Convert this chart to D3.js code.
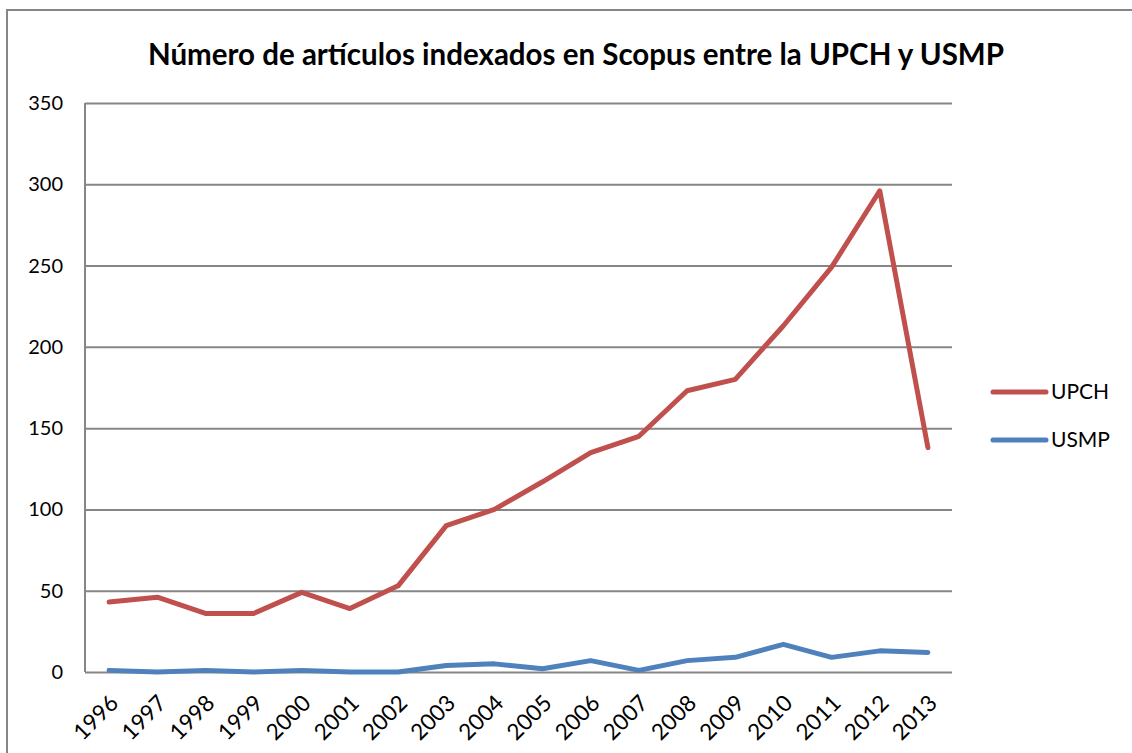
<!DOCTYPE html>
<html>
<head>
<meta charset="utf-8">
<script src="https://cdn.jsdelivr.net/npm/d3@7"></script>
<style>
  body { margin: 0; background: #fff; }
  text { font-family: Lato, "Open Sans", sans-serif; fill: #000; }
</style>
</head>
<body>
<div id="container"></div>
<script>
// Chart size and plot area
const width = 1132;
const height = 753;
const marginTop = 103;
const marginRight = 180;
const marginBottom = 81;
const marginLeft = 85;

// Data
const years = ["1996", "1997", "1998", "1999", "2000", "2001", "2002", "2003", "2004",
  "2005", "2006", "2007", "2008", "2009", "2010", "2011", "2012", "2013"];
const upch = [43, 46, 36, 36, 49, 39, 53, 90, 100, 117, 135, 145, 173, 180, 213, 249, 296, 138];
const usmp = [1, 0, 1, 0, 1, 0, 0, 4, 5, 2, 7, 1, 7, 9, 17, 9, 13, 12];
const yTicks = [0, 50, 100, 150, 200, 250, 300, 350];
const seriesNames = ["UPCH", "USMP"];
const colors = ["#C0504D", "#4F81BD"];

const x = d3.scalePoint()
    .domain(years)
    .range([marginLeft, width - marginRight])
    .padding(0.5);

const y = d3.scaleLinear()
    .domain([0, 350])
    .range([height - marginBottom, marginTop]);

const svg = d3.select("#container")
    .append("svg")
    .attr("width", width)
    .attr("height", height);

// outer chart border
svg.append("rect")
    .attr("x", 7).attr("y", 10)
    .attr("width", width + 20).attr("height", height + 20)
    .attr("fill", "none")
    .attr("stroke", "#868686")
    .attr("stroke-width", 2);

// title
svg.append("text")
    .attr("x", 576)
    .attr("y", 65)
    .attr("text-anchor", "middle")
    .attr("font-size", 29.5)
    .attr("font-weight", "bold")
    .text("Número de artículos indexados en Scopus entre la UPCH y USMP");

// gridlines
svg.append("g")
    .attr("transform", `translate(${marginLeft},0)`)
    .call(d3.axisLeft(y).tickValues(yTicks).tickSize(-(width - marginRight - marginLeft)).tickFormat(""))
    .call(g => g.select(".domain").remove())
    .call(g => g.selectAll("line").attr("stroke", "#868686").attr("stroke-width", 2));

// y axis line
svg.append("line")
    .attr("x1", marginLeft).attr("x2", marginLeft)
    .attr("y1", y(350)).attr("y2", y(0))
    .attr("stroke", "#868686")
    .attr("stroke-width", 2);

// y tick labels
svg.append("g")
    .selectAll("text")
    .data(yTicks)
    .join("text")
    .attr("x", 63)
    .attr("y", d => y(d))
    .attr("dy", "0.35em")
    .attr("text-anchor", "end")
    .attr("font-size", 20)
    .text(d => d);

// x tick labels, rotated
svg.append("g")
    .selectAll("text")
    .data(years)
    .join("text")
    .attr("transform", d => `translate(${x(d) + 5},${y(0) + 27}) rotate(-45)`)
    .attr("text-anchor", "end")
    .attr("dy", "0.35em")
    .attr("font-size", 22.5)
    .text(d => d);

// lines
const line = d3.line()
    .x((d, i) => x(years[i]))
    .y(d => y(d));

[upch, usmp].forEach((s, k) => {
  svg.append("path")
      .datum(s)
      .attr("fill", "none")
      .attr("stroke", colors[k])
      .attr("stroke-width", 5)
      .attr("stroke-linejoin", "round")
      .attr("stroke-linecap", "round")
      .attr("d", line);
});

// legend
const legend = svg.append("g");
seriesNames.forEach((name, k) => {
  const ly = 392 + k * 48;
  legend.append("line")
      .attr("x1", 993).attr("x2", 1046)
      .attr("y1", ly).attr("y2", ly)
      .attr("stroke", colors[k])
      .attr("stroke-width", 5)
      .attr("stroke-linecap", "round");
  legend.append("text")
      .attr("x", 1051)
      .attr("y", ly)
      .attr("dy", "0.35em")
      .attr("font-size", 21)
      .text(name);
});
</script>
</body>
</html>
